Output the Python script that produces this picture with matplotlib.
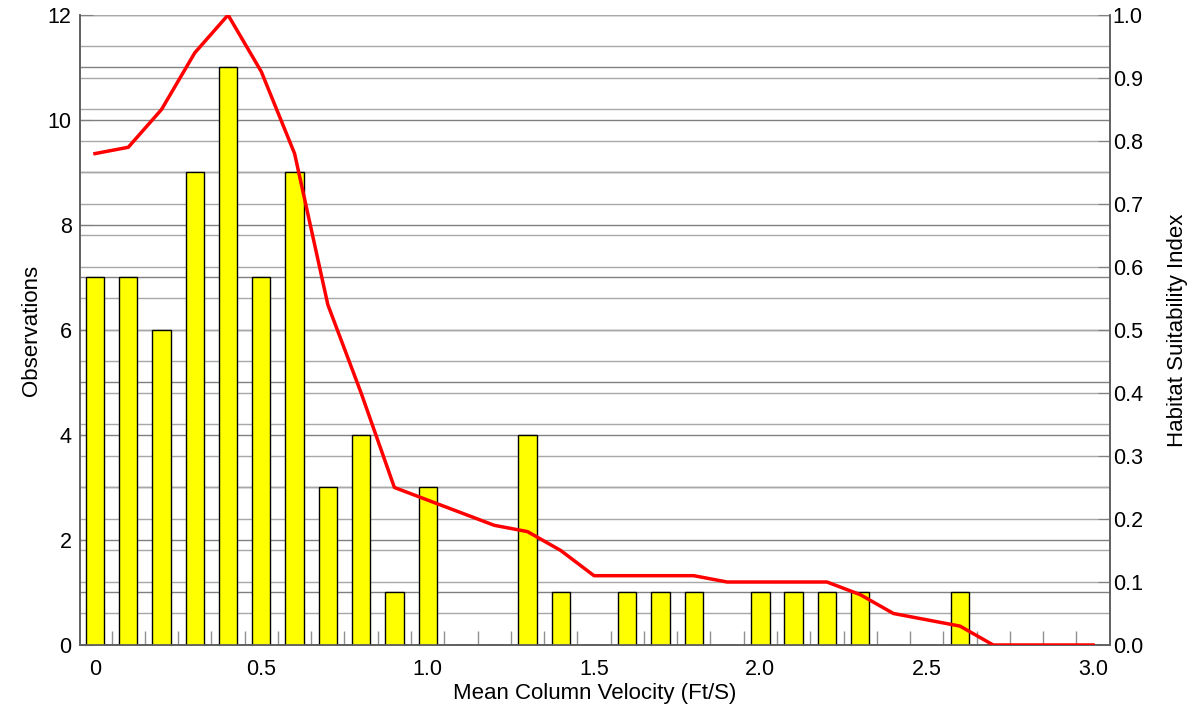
import numpy as np
import matplotlib
matplotlib.use("Agg")
import matplotlib.pyplot as plt
from matplotlib.ticker import FixedLocator, FormatStrFormatter

plt.rcParams['font.family'] = ['Liberation Sans', 'DejaVu Sans']

# Data
velocity = [0.0, 0.1, 0.2, 0.3, 0.4, 0.5, 0.6, 0.7, 0.8, 0.9, 1.0,
            1.1, 1.2, 1.3, 1.4, 1.5, 1.6, 1.7, 1.8, 1.9, 2.0,
            2.1, 2.2, 2.3, 2.4, 2.5, 2.6, 2.7, 2.8, 2.9, 3.0]
observations = [7, 7, 6, 9, 11, 7, 9, 3, 4, 1, 3,
                0, 0, 4, 1, 0, 1, 1, 1, 0, 1,
                1, 1, 1, 0, 0, 1, 0, 0, 0, 0]
hsi = [0.78, 0.79, 0.85, 0.94, 1.00, 0.91, 0.78, 0.54, 0.40, 0.25, 0.23,
       0.21, 0.19, 0.18, 0.15, 0.11, 0.11, 0.11, 0.11, 0.10, 0.10,
       0.10, 0.10, 0.08, 0.05, 0.04, 0.03, 0.00, 0.00, 0.00, 0.00]

x_ticks = [0, 0.5, 1.0, 1.5, 2.0, 2.5, 3.0]
x_labels = ["0", "0.5", "1.0", "1.5", "2.0", "2.5", "3.0"]

OBS_MAX = 12
HSI_MAX = 1.0

fig = plt.figure(figsize=(11.96, 7.07), dpi=100)
ax = fig.add_axes([0.0669, 0.0877, 0.8612, 0.8911])
ax2 = ax.twinx()

# grid lines for both axes, all drawn behind the bars
for v in range(0, OBS_MAX + 1):
    ax.axhline(v, color="#808080", lw=1, zorder=0)
for v in np.arange(0, HSI_MAX + 0.001, 0.05):
    ax.axhline(v / HSI_MAX * OBS_MAX, color="#a8a8a8", lw=1, zorder=0)

ax.bar(velocity, observations, width=0.055, color="#ffff00",
       edgecolor="black", linewidth=1, zorder=3)
ax2.plot(velocity, hsi, color="#ff0000", lw=2.5, zorder=4)

ax.set_xlim(-0.045, 3.051)
ax.set_ylim(0, OBS_MAX)
ax2.set_ylim(0, HSI_MAX)

ax.set_xticks(x_ticks)
ax.set_xticklabels(x_labels)
ax.xaxis.set_minor_locator(FixedLocator(np.arange(-0.05, 3.0, 0.1)))
ax.tick_params(axis="x", which="major", length=0, labelsize=15.5, pad=10)
ax.tick_params(axis="x", which="minor", direction="in", length=10,
               width=1, color="#909090")

ax.set_yticks(range(0, OBS_MAX + 1, 2))
ax.tick_params(axis="y", direction="in", length=9, labelsize=15.5,
               color="#808080", pad=6)
ax2.set_yticks(np.arange(0, 1.01, 0.1))
ax2.yaxis.set_major_formatter(FormatStrFormatter("%.1f"))
ax2.tick_params(axis="y", direction="in", length=9, labelsize=15.5,
                color="#808080", pad=2)

for a in (ax, ax2):
    a.spines["top"].set_visible(False)
    for s in ("left", "right", "bottom"):
        a.spines[s].set_color("#606060")
        a.spines[s].set_linewidth(1.2)
ax.set_zorder(ax2.get_zorder() - 1)
ax2.patch.set_visible(False)

ax.set_xlabel("Mean Column Velocity (Ft/S)", fontsize=16, labelpad=2)
ax.set_ylabel("Observations", fontsize=16, labelpad=4)
ax2.set_ylabel("Habitat Suitability Index", fontsize=16, labelpad=20)
ax2.yaxis.set_label_coords(1.055, 0.33 + 0.17)

fig.savefig("out.png", dpi=100)
